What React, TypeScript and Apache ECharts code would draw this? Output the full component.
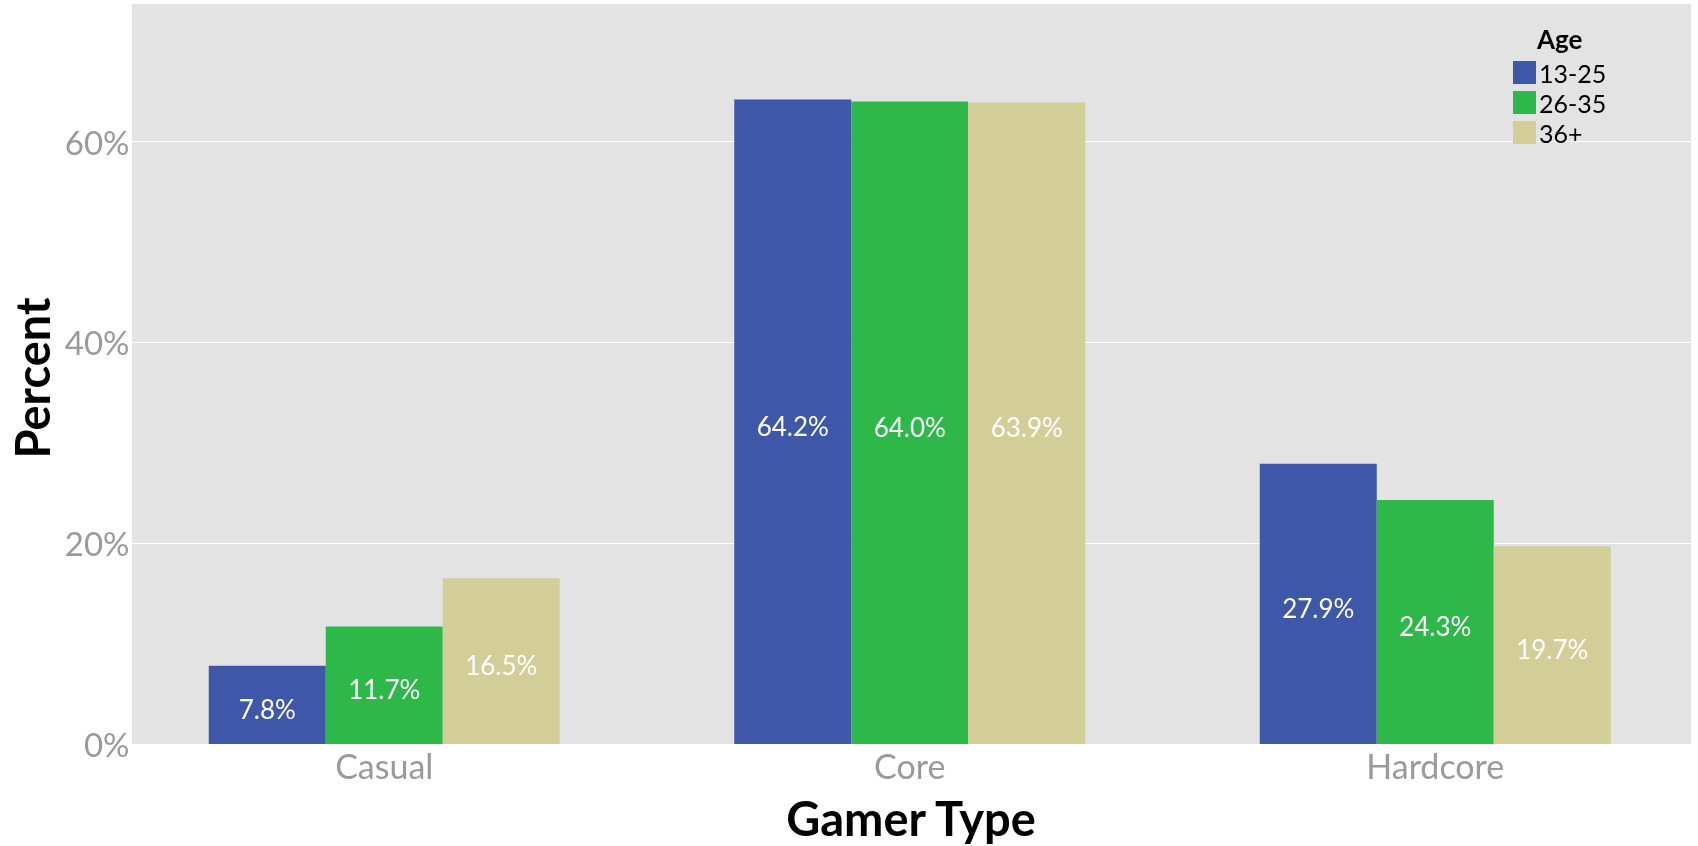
import React, { useEffect, useRef } from "react";
import * as echarts from "echarts";

// Share of each gamer type within each age group (%)
const categories = ["Casual", "Core", "Hardcore"];
const ageGroups = ["13-25", "26-35", "36+"];
const age13to25 = [7.8, 64.2, 27.9];
const age26to35 = [11.7, 64.0, 24.3];
const age36plus = [16.5, 63.9, 19.7];
const yTicks = [0, 20, 40, 60];

const colors = ["#3E57A9", "#2EB84A", "#D3CE97"];
const FONT = "Lato, 'Open Sans', sans-serif";

export default function App() {
  const ref = useRef<HTMLDivElement>(null);

  useEffect(() => {
    if (!ref.current) return;
    const chart = echarts.init(ref.current, undefined, { renderer: "svg" });

    const seriesData = [age13to25, age26to35, age36plus];

    // panel rectangle (grey background) in pixels
    const panel = { x: 132, y: 3, w: 1559, h: 741 };

    chart.setOption({
      animation: false,
      textStyle: { fontFamily: FONT },
      grid: {
        left: 121.5,
        top: panel.y,
        width: 1580.5,
        height: panel.h,
        containLabel: false,
        show: false,
      },
      graphic: [
        {
          type: "rect",
          z: -10,
          silent: true,
          shape: { x: panel.x, y: panel.y, width: panel.w, height: panel.h },
          style: { fill: "#E3E3E3" },
        },
        {
          type: "text",
          x: 32,
          y: 378,
          rotation: Math.PI / 2,
          style: {
            text: "Percent",
            font: `bold 47px ${FONT}`,
            fill: "#000000",
            align: "center",
            verticalAlign: "middle",
          },
        },
        {
          type: "text",
          x: 911,
          y: 818,
          style: {
            text: "Gamer Type",
            font: `bold 47px ${FONT}`,
            fill: "#000000",
            align: "center",
            verticalAlign: "middle",
          },
        },
        {
          type: "text",
          x: 1537,
          y: 39,
          style: {
            text: "Age",
            font: `bold 26px ${FONT}`,
            fill: "#000000",
            align: "left",
            verticalAlign: "middle",
          },
        },
      ],
      legend: {
        show: true,
        orient: "vertical",
        left: 1513,
        top: 60,
        itemWidth: 23,
        itemHeight: 23,
        itemGap: 5,
        icon: "rect",
        padding: 0,
        data: ageGroups,
        textStyle: {
          fontSize: 25,
          color: "#000000",
          fontFamily: FONT,
          padding: [0, 0, 0, -2],
        },
        selectedMode: false,
      },
      xAxis: {
        type: "category",
        data: categories,
        boundaryGap: true,
        axisLine: { show: false },
        axisTick: { show: false },
        splitLine: { show: false },
        axisLabel: {
          fontSize: 34,
          color: "#9A9A9A",
          fontFamily: FONT,
          margin: 4,
        },
      },
      yAxis: {
        type: "value",
        min: 0,
        max: 73.8,
        interval: 20,
        offset: -10,
        axisLine: { show: false },
        axisTick: { show: false },
        splitLine: { show: true, lineStyle: { color: "#FFFFFF", width: 1 } },
        axisLabel: {
          fontSize: 33,
          color: "#9A9A9A",
          fontFamily: FONT,
          margin: 2,
          showMaxLabel: false,
          padding: [6, 0, 0, 0],
          formatter: (v: number) => (yTicks.includes(v) ? `${v}%` : ""),
        },
      },
      series: ageGroups.map((name, i) => ({
        name,
        type: "bar",
        data: seriesData[i],
        barWidth: 117,
        barGap: "0%",
        itemStyle: { color: colors[i] },
        label: {
          show: true,
          position: "inside",
          offset: [0, 4],
          color: "#FFFFFF",
          fontSize: 26,
          fontFamily: FONT,
          formatter: (p: any) => `${Number(p.value).toFixed(1)}%`,
        },
      })),
    });

    return () => chart.dispose();
  }, []);

  return (
    <div
      ref={ref}
      style={{ position: "fixed", left: 0, top: 0, width: 1698, height: 846 }}
    />
  );
}
